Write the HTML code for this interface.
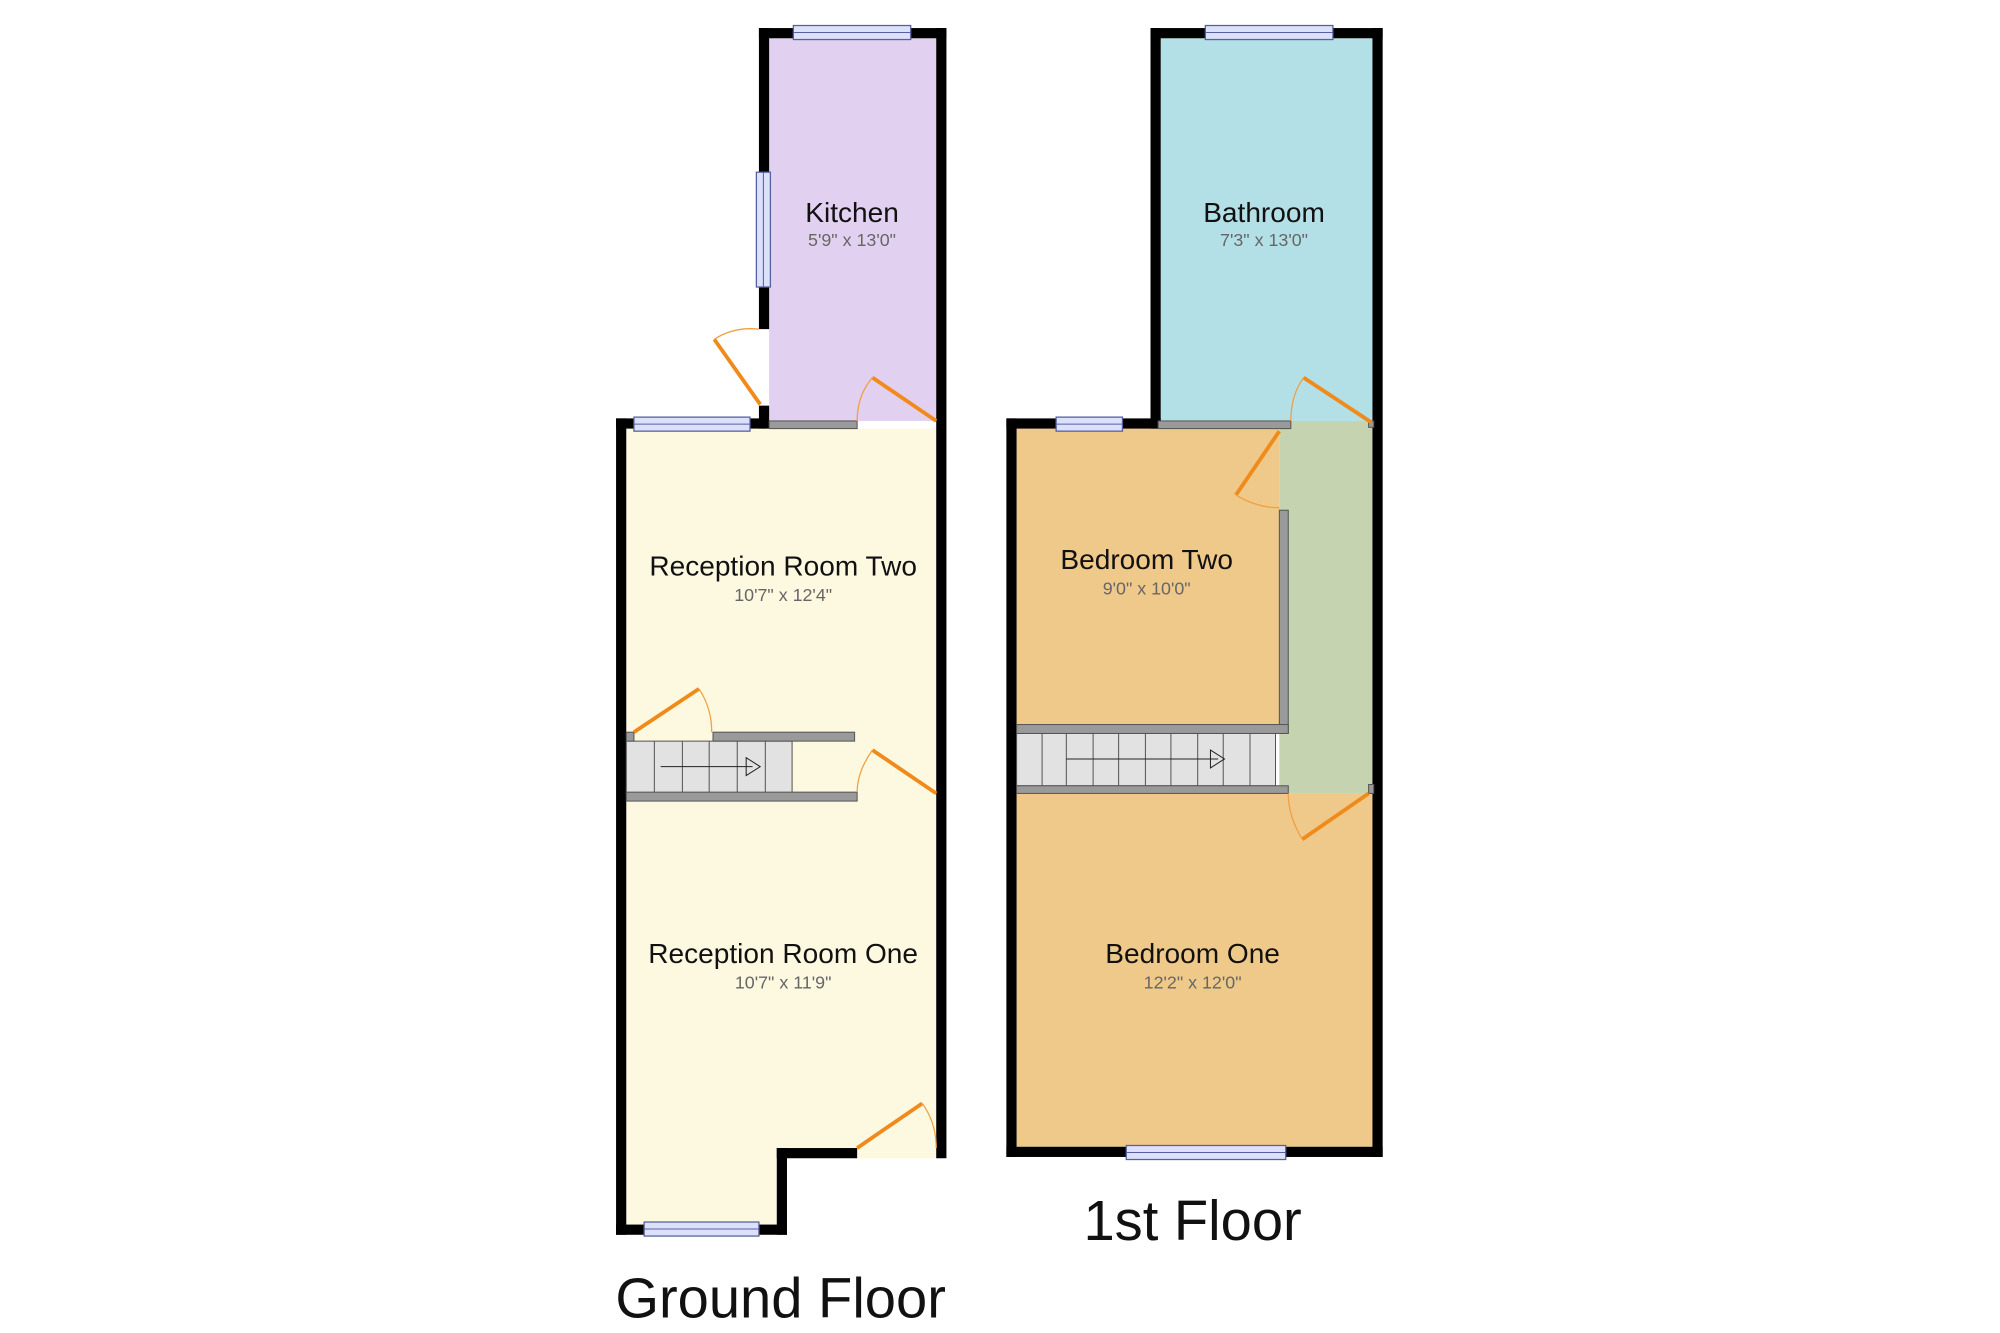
<!DOCTYPE html>
<html><head><meta charset="utf-8"><style>
html,body{margin:0;padding:0;background:#fff;}
svg{display:block;}
text{font-family:"Liberation Sans",sans-serif;text-anchor:middle;}
.n{font-size:22px;fill:#111;}
.d{font-size:14px;fill:#666;}
.f{font-size:44px;fill:#111;}
.g{fill:#9a9a9a;stroke:#555;stroke-width:0.8;}
.w{fill:#dde0fb;stroke:#5560a0;stroke-width:1;}
.dr{stroke:#f08a1a;stroke-width:3;fill:none;}
.arc{stroke:#f0a040;stroke-width:1;fill:none;}
.st{fill:#e2e2e2;stroke:#555;stroke-width:0.8;}
</style></head><body>
<svg width="2000" height="1333" viewBox="0 0 1568 1045" preserveAspectRatio="none" xmlns="http://www.w3.org/2000/svg">
<rect x="603" y="30" width="131" height="300" fill="#e2d0f0"/>
<rect x="491" y="336" width="243" height="572" fill="#fdf9e1"/>
<rect x="491" y="900" width="126" height="60" fill="#fdf9e1"/>
<g fill="#000">
<rect x="595" y="22" width="147" height="8"/>
<rect x="595" y="22" width="8" height="236"/>
<rect x="595" y="318" width="8" height="18"/>
<rect x="734" y="22" width="8" height="886"/>
<rect x="483" y="328" width="118" height="8"/>
<rect x="483" y="328" width="8" height="640"/>
<rect x="483" y="960" width="134" height="8"/>
<rect x="609" y="900" width="8" height="68"/>
<rect x="609" y="900" width="63" height="8"/>
</g>
<rect class="w" x="622" y="20" width="92" height="11"/>
<line x1="622" y1="25.5" x2="714" y2="25.5" stroke="#5560a0" stroke-width="0.8"/>
<rect class="w" x="593" y="135" width="11" height="90"/>
<line x1="598.5" y1="135" x2="598.5" y2="225" stroke="#5560a0" stroke-width="0.8"/>
<rect class="w" x="497" y="327" width="91" height="11"/>
<line x1="497" y1="332.5" x2="588" y2="332.5" stroke="#5560a0" stroke-width="0.8"/>
<rect class="w" x="505" y="958" width="90" height="11"/>
<line x1="505" y1="963.5" x2="595" y2="963.5" stroke="#5560a0" stroke-width="0.8"/>
<rect class="g" x="603" y="330" width="69" height="6"/>
<rect class="st" x="491" y="581" width="130" height="41"/>
<g stroke="#555" stroke-width="0.8"><line x1="513" y1="581" x2="513" y2="622"/><line x1="535" y1="581" x2="535" y2="622"/><line x1="556" y1="581" x2="556" y2="622"/><line x1="578" y1="581" x2="578" y2="622"/><line x1="600" y1="581" x2="600" y2="622"/></g>
<line x1="518" y1="601" x2="590" y2="601" stroke="#222" stroke-width="0.8"/>
<polygon points="585,594 596,601 585,608" fill="none" stroke="#222" stroke-width="0.8"/>
<rect class="g" x="491" y="574" width="6" height="7"/>
<rect class="g" x="559" y="574" width="111" height="7"/>
<rect class="g" x="491" y="621" width="181" height="7"/>
<line class="dr" x1="560" y1="266" x2="596" y2="317"/><path class="arc" d="M560,266 Q575,256 595,258"/>
<line class="dr" x1="684" y1="296" x2="734" y2="330"/><path class="arc" d="M684,296 Q672,310 672,330"/>
<line class="dr" x1="497" y1="574" x2="548" y2="540"/><path class="arc" d="M548,540 Q558,555 558,574"/>
<line class="dr" x1="684" y1="588" x2="734" y2="622"/><path class="arc" d="M684,588 Q672,605 672,621"/>
<line class="dr" x1="672" y1="900" x2="723" y2="865"/><path class="arc" d="M723,865 Q734,880 734,900"/>
<rect x="910" y="30" width="166" height="300" fill="#b3dfe6"/>
<rect x="1003" y="330" width="73" height="292" fill="#c5d3b0"/>
<rect x="797" y="336" width="206" height="232" fill="#efc98a"/>
<rect x="797" y="622" width="279" height="277" fill="#efc98a"/>
<g fill="#000">
<rect x="902" y="22" width="182" height="8"/>
<rect x="902" y="22" width="8" height="314"/>
<rect x="1076" y="22" width="8" height="885"/>
<rect x="789" y="328" width="121" height="8"/>
<rect x="789" y="328" width="8" height="579"/>
<rect x="789" y="899" width="295" height="8"/>
</g>
<rect class="w" x="945" y="20" width="100" height="11"/>
<line x1="945" y1="25.5" x2="1045" y2="25.5" stroke="#5560a0" stroke-width="0.8"/>
<rect class="w" x="828" y="327" width="52" height="11"/>
<line x1="828" y1="332.5" x2="880" y2="332.5" stroke="#5560a0" stroke-width="0.8"/>
<rect class="w" x="883" y="898" width="125" height="11"/>
<line x1="883" y1="903.5" x2="1008" y2="903.5" stroke="#5560a0" stroke-width="0.8"/>
<rect class="g" x="908" y="330" width="104" height="6"/>
<rect class="g" x="1003" y="400" width="7" height="175"/>
<rect class="g" x="1073" y="330" width="4" height="5"/>
<rect class="g" x="1073" y="615" width="4" height="7"/>
<rect class="st" x="797" y="575" width="203" height="41"/>
<g stroke="#555" stroke-width="0.8"><line x1="817" y1="575" x2="817" y2="616"/><line x1="836" y1="575" x2="836" y2="616"/><line x1="857" y1="575" x2="857" y2="616"/><line x1="877" y1="575" x2="877" y2="616"/><line x1="898" y1="575" x2="898" y2="616"/><line x1="918" y1="575" x2="918" y2="616"/><line x1="939" y1="575" x2="939" y2="616"/><line x1="959" y1="575" x2="959" y2="616"/><line x1="980" y1="575" x2="980" y2="616"/></g>
<line x1="836" y1="595" x2="955" y2="595" stroke="#222" stroke-width="0.8"/>
<polygon points="949,588 960,595 949,602" fill="none" stroke="#222" stroke-width="0.8"/>
<rect class="g" x="797" y="568" width="213" height="7"/>
<rect class="g" x="797" y="616" width="213" height="6"/>
<line class="dr" x1="1022" y1="296" x2="1075" y2="331"/><path class="arc" d="M1022,296 Q1012,310 1012,330"/>
<line class="dr" x1="1003" y1="338" x2="969" y2="388"/><path class="arc" d="M969,388 Q985,398 1003,398"/>
<line class="dr" x1="1021" y1="658" x2="1073" y2="622"/><path class="arc" d="M1021,658 Q1010,640 1010,622"/>
<text class="n" x="668" y="174">Kitchen</text><text class="d" x="668" y="193">5'9" x 13'0"</text>
<text class="n" x="991" y="174">Bathroom</text><text class="d" x="991" y="193">7'3" x 13'0"</text>
<text class="n" x="614" y="451">Reception Room Two</text><text class="d" x="614" y="471">10'7" x 12'4"</text>
<text class="n" x="899" y="446">Bedroom Two</text><text class="d" x="899" y="466">9'0" x 10'0"</text>
<text class="n" x="614" y="755">Reception Room One</text><text class="d" x="614" y="775">10'7" x 11'9"</text>
<text class="n" x="935" y="755">Bedroom One</text><text class="d" x="935" y="775">12'2" x 12'0"</text>
<text class="f" x="612" y="1033">Ground Floor</text>
<text class="f" x="935" y="972">1st Floor</text>
</svg>
</body></html>
